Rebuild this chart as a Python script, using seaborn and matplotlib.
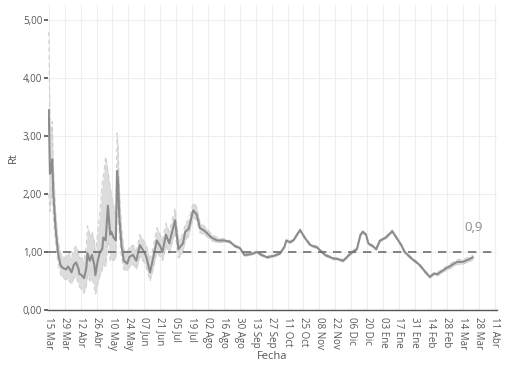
import matplotlib
matplotlib.use("Agg")
import matplotlib.pyplot as plt
import pandas as pd
import seaborn as sns

# Rt estimate (line) and its confidence band
dates = [
    "2020-03-15", "2020-03-16", "2020-03-17", "2020-03-18", "2020-03-19", "2020-03-21",
    "2020-03-23", "2020-03-25", "2020-03-26", "2020-03-28", "2020-03-30", "2020-04-01",
    "2020-04-02", "2020-04-04", "2020-04-06", "2020-04-08", "2020-04-10", "2020-04-11",
    "2020-04-13", "2020-04-15", "2020-04-17", "2020-04-18", "2020-04-20", "2020-04-22",
    "2020-04-24", "2020-04-25", "2020-04-27", "2020-04-29", "2020-05-01", "2020-05-02",
    "2020-05-04", "2020-05-06", "2020-05-08", "2020-05-09", "2020-05-11", "2020-05-13",
    "2020-05-14", "2020-05-15", "2020-05-16", "2020-05-18", "2020-05-20", "2020-05-23",
    "2020-05-25", "2020-05-28", "2020-05-31", "2020-06-03", "2020-06-07", "2020-06-09",
    "2020-06-12", "2020-06-14", "2020-06-18", "2020-06-21", "2020-06-23", "2020-06-26",
    "2020-06-29", "2020-07-04", "2020-07-07", "2020-07-11", "2020-07-13", "2020-07-16",
    "2020-07-20", "2020-07-23", "2020-07-26", "2020-07-29", "2020-08-01", "2020-08-05",
    "2020-08-10", "2020-08-16", "2020-08-21", "2020-08-26", "2020-08-30", "2020-09-03",
    "2020-09-08", "2020-09-14", "2020-09-18", "2020-09-23", "2020-09-28", "2020-10-04",
    "2020-10-08", "2020-10-10", "2020-10-13", "2020-10-16", "2020-10-22", "2020-10-26",
    "2020-10-31", "2020-11-06", "2020-11-09", "2020-11-13", "2020-11-20", "2020-11-24",
    "2020-11-29", "2020-12-03", "2020-12-07", "2020-12-11", "2020-12-14", "2020-12-16",
    "2020-12-19", "2020-12-21", "2020-12-25", "2020-12-28", "2020-12-31", "2021-01-06",
    "2021-01-11", "2021-01-15", "2021-01-19", "2021-01-22", "2021-01-28", "2021-02-04",
    "2021-02-09", "2021-02-13", "2021-02-17", "2021-02-20", "2021-02-25", "2021-03-03",
    "2021-03-09", "2021-03-14", "2021-03-19", "2021-03-23",
]
rt = [
    3.45, 2.35, 2.40, 2.60, 2.00, 1.40,
    1.00, 0.80, 0.75, 0.72, 0.70, 0.75,
    0.72, 0.65, 0.78, 0.82, 0.72, 0.62,
    0.60, 0.55, 0.72, 0.98, 0.85, 0.95,
    0.78, 0.60, 0.85, 1.00, 1.05, 1.25,
    1.20, 1.80, 1.30, 1.35, 1.25, 1.20,
    2.40, 2.20, 1.60, 1.10, 0.85, 0.80,
    0.92, 0.95, 0.85, 1.12, 1.00, 0.90,
    0.65, 0.82, 1.20, 1.10, 1.00, 1.30,
    1.15, 1.55, 1.05, 1.15, 1.35, 1.40,
    1.72, 1.65, 1.41, 1.38, 1.33, 1.25,
    1.20, 1.20, 1.18, 1.10, 1.07, 0.95,
    0.96, 1.00, 0.95, 0.91, 0.93, 0.97,
    1.08, 1.20, 1.17, 1.20, 1.38, 1.25,
    1.12, 1.08, 1.02, 0.95, 0.89, 0.88,
    0.85, 0.93, 1.00, 1.05, 1.29, 1.35,
    1.30, 1.15, 1.10, 1.05, 1.19, 1.26,
    1.36, 1.24, 1.12, 1.00, 0.89, 0.78,
    0.66, 0.57, 0.63, 0.62, 0.69, 0.76,
    0.83, 0.83, 0.87, 0.91,
]
rt_low = [
    2.00, 1.70, 1.90, 2.10, 1.60, 1.15,
    0.82, 0.65, 0.58, 0.55, 0.52, 0.55,
    0.50, 0.45, 0.55, 0.58, 0.45, 0.40,
    0.35, 0.29, 0.42, 0.60, 0.50, 0.55,
    0.40, 0.27, 0.45, 0.60, 0.70, 0.80,
    0.75, 1.20, 0.85, 0.90, 0.85, 0.90,
    1.90, 1.70, 1.30, 0.90, 0.70, 0.68,
    0.75, 0.80, 0.70, 0.92, 0.82, 0.72,
    0.50, 0.65, 1.00, 0.92, 0.85, 1.10,
    0.98, 1.35, 0.90, 1.00, 1.20, 1.28,
    1.60, 1.55, 1.33, 1.31, 1.27, 1.20,
    1.16, 1.17, 1.16, 1.08, 1.05, 0.93,
    0.94, 0.98, 0.93, 0.89, 0.91, 0.95,
    1.06, 1.18, 1.15, 1.18, 1.36, 1.23,
    1.10, 1.06, 1.00, 0.93, 0.87, 0.86,
    0.83, 0.91, 0.98, 1.03, 1.27, 1.33,
    1.28, 1.13, 1.08, 1.03, 1.17, 1.24,
    1.34, 1.22, 1.10, 0.98, 0.87, 0.76,
    0.64, 0.55, 0.61, 0.59, 0.66, 0.72,
    0.79, 0.79, 0.83, 0.87,
]
rt_high = [
    4.80, 3.30, 3.00, 3.25, 2.50, 1.70,
    1.20, 1.00, 0.95, 0.92, 0.90, 1.00,
    0.95, 0.90, 1.05, 1.10, 1.00, 0.90,
    0.90, 0.85, 1.10, 1.45, 1.30, 1.35,
    1.20, 0.95, 1.35, 1.70, 2.20, 2.30,
    2.65, 2.40, 2.10, 2.00, 1.80, 1.60,
    3.05, 2.80, 2.10, 1.40, 1.05, 1.00,
    1.10, 1.12, 1.02, 1.30, 1.18, 1.10,
    0.85, 1.00, 1.42, 1.30, 1.20, 1.50,
    1.35, 1.75, 1.22, 1.30, 1.50, 1.55,
    1.85, 1.78, 1.50, 1.46, 1.40, 1.31,
    1.25, 1.23, 1.20, 1.12, 1.09, 0.97,
    0.98, 1.02, 0.97, 0.93, 0.95, 0.99,
    1.10, 1.22, 1.19, 1.22, 1.40, 1.27,
    1.14, 1.10, 1.04, 0.97, 0.91, 0.90,
    0.87, 0.95, 1.02, 1.07, 1.31, 1.37,
    1.32, 1.17, 1.12, 1.07, 1.21, 1.28,
    1.38, 1.26, 1.14, 1.02, 0.91, 0.80,
    0.68, 0.59, 0.65, 0.65, 0.72, 0.80,
    0.87, 0.87, 0.91, 0.95,
]

tick_dates = [
    "2020-03-15", "2020-03-29", "2020-04-12", "2020-04-26", "2020-05-10", "2020-05-24",
    "2020-06-07", "2020-06-21", "2020-07-05", "2020-07-19", "2020-08-02", "2020-08-16",
    "2020-08-30", "2020-09-13", "2020-09-27", "2020-10-11", "2020-10-25", "2020-11-08",
    "2020-11-22", "2020-12-06", "2020-12-20", "2021-01-03", "2021-01-17", "2021-01-31",
    "2021-02-14", "2021-02-28", "2021-03-14", "2021-03-28", "2021-04-11",
]
tick_labels = [
    "15 Mar", "29 Mar", "12 Abr", "26 Abr", "10 May", "24 May",
    "07 Jun", "21 Jun", "05 Jul", "19 Jul", "02 Ago", "16 Ago",
    "30 Ago", "13 Sep", "27 Sep", "11 Oct", "25 Oct", "08 Nov",
    "22 Nov", "06 Dic", "20 Dic", "03 Ene", "17 Ene", "31 Ene",
    "14 Feb", "28 Feb", "14 Mar", "28 Mar", "11 Abr",
]
y_ticks = [0, 1, 2, 3, 4, 5]
y_labels = ["0,00", "1,00", "2,00", "3,00", "4,00", "5,00"]
last_label = "0,9"

df = pd.DataFrame({
    "Fecha": pd.to_datetime(dates),
    "Rt": rt,
    "low": rt_low,
    "high": rt_high,
})

sns.set_theme(style="whitegrid")
plt.rcParams["font.family"] = ["Open Sans", "DejaVu Sans"]

fig = plt.figure(figsize=(5.09, 3.66), dpi=100)
ax = fig.add_axes([0.094, 0.153, 0.882, 0.833])

band = "#dcdcdc"
ax.fill_between(df["Fecha"], df["low"], df["high"], color=band, lw=0, zorder=2)
ax.plot(df["Fecha"], df["low"], color="#cfcfcf", lw=0.8, ls=(0, (4, 3)), zorder=2)
ax.plot(df["Fecha"], df["high"], color="#cfcfcf", lw=0.8, ls=(0, (4, 3)), zorder=2)
sns.lineplot(data=df, x="Fecha", y="Rt", color="#8c8c8c", lw=1.5, ax=ax, zorder=3)

ax.axhline(1.0, color="#6e6e6e", lw=1.2, ls=(0, (5, 4)), zorder=4)

ax.text(pd.Timestamp("2021-03-24"), 1.42, last_label, color="#8c8c8c",
        fontsize=9.5, ha="center", va="center")

ax.set_xlim(pd.Timestamp("2020-03-14 04:00"), pd.Timestamp("2021-04-13"))
ax.set_ylim(0, 5.26)
ax.set_xticks(pd.to_datetime(tick_dates))
ax.set_xticklabels(tick_labels, rotation=-90, fontsize=7, color="#555555")
ax.set_yticks(y_ticks)
ax.set_yticklabels(y_labels, fontsize=7, color="#555555")

ax.set_xlabel("Fecha", fontsize=8, color="#555555", labelpad=1)
ax.set_ylabel("Rt", fontsize=8, color="#555555", labelpad=3)

ax.grid(True, color="#eeeeee", lw=0.8)
for side in ["top", "right", "left"]:
    ax.spines[side].set_visible(False)
ax.spines["bottom"].set_color("#555555")
ax.spines["bottom"].set_linewidth(1.0)
ax.tick_params(axis="x", length=3, color="#555555", pad=2)
ax.tick_params(axis="y", length=3, color="#555555", pad=1, left=True)
ax.set_facecolor("white")

fig.savefig("out.png", dpi=100)
